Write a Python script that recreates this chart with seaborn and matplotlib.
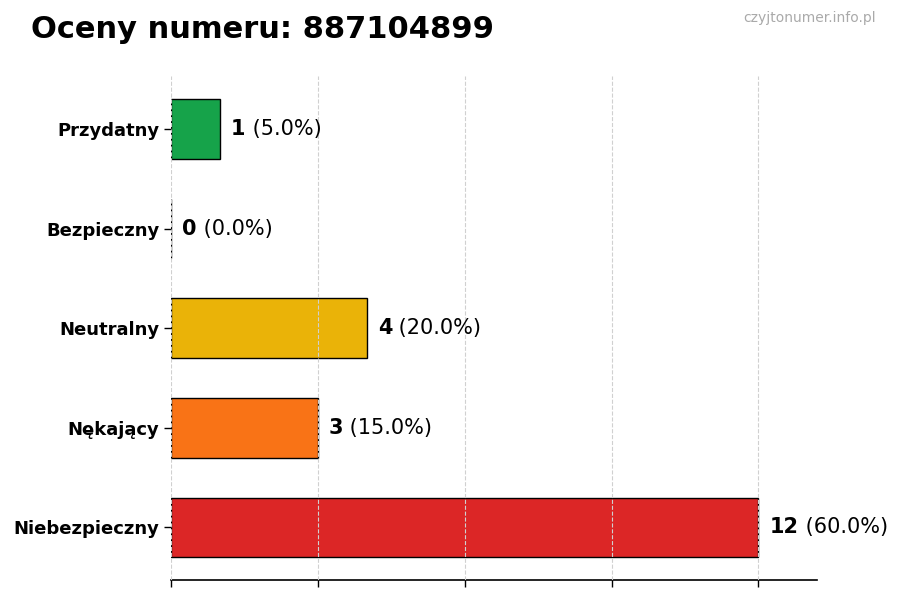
import matplotlib
matplotlib.use("Agg")
import matplotlib.pyplot as plt
import seaborn as sns
import pandas as pd

# ── Data ──────────────────────────────────────────────────────────────────────
categories = ["Przydatny", "Bezpieczny", "Neutralny", "Nękający", "Niebezpieczny"]
counts = [1, 0, 4, 3, 12]
colors = ["#16a34a", "#3b82f6", "#eab308", "#f97316", "#dc2626"]
title = "Oceny numeru: 887104899"
watermark = "czyjtonumer.info.pl"

total = sum(counts)
df = pd.DataFrame({"kategoria": categories, "liczba": counts})

sns.set_style("white", {"xtick.bottom": True, "ytick.left": True,
                        "text.color": "black", "axes.labelcolor": "black",
                        "xtick.color": "black", "ytick.color": "black",
                        "axes.edgecolor": "black"})
plt.rcParams["font.family"] = ["DejaVu Sans"]

fig = plt.figure(figsize=(9, 6), dpi=100)
ax = fig.add_axes([0.19, 0.033, 0.718, 0.84])

sns.barplot(
    data=df, y="kategoria", x="liczba", hue="kategoria",
    palette=colors, orient="h", width=0.6, edgecolor="black",
    linewidth=1, legend=False, ax=ax, saturation=1,
)

ax.set_xlim(0, max(counts) * 1.1)
ax.set_ylim(len(categories) - 0.47, -0.53)
ax.set_xticks(range(0, max(counts) + 1, 3))
ax.set_xticklabels([])
ax.set_xlabel("")
ax.set_ylabel("")
ax.grid(axis="x", linestyle="--", color="#d0d0d0", linewidth=0.8)
ax.set_axisbelow(False)
for s in ("top", "right", "left"):
    ax.spines[s].set_visible(False)
ax.spines["bottom"].set_linewidth(1.2)
ax.tick_params(axis="both", length=5, width=1, color="black")
ax.tick_params(axis="y", labelsize=13, labelcolor="black")
for lbl in ax.get_yticklabels():
    lbl.set_fontweight("bold")

# value labels: bold count + normal percentage
for i, c in enumerate(counts):
    t = ax.annotate(str(c), xy=(c, i), xytext=(8, 0), textcoords="offset points",
                    va="center", ha="left", fontsize=15, fontweight="bold",
                    color="black")
    ax.annotate(f" ({c / total * 100:.1f}%)", xy=(1, 0.5), xycoords=t,
                va="center", ha="left", fontsize=15, color="black")

fig.text(0.034, 0.95, title, fontsize=22, fontweight="bold", ha="left",
         va="center", color="black")
fig.text(0.973, 0.97, watermark, fontsize=10, color="#aaaaaa", ha="right", va="center")

fig.savefig("out.png", dpi=100)
